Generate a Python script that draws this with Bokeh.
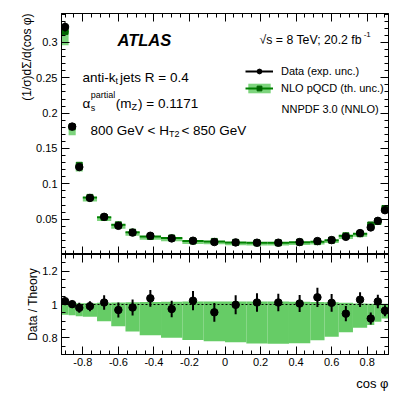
import numpy as np
from bokeh.plotting import figure
from bokeh.models import (Range1d, LinearAxis, FixedTicker, CustomJSTickFormatter,
                          Label, Legend, LegendItem, ColumnDataSource, Span, Title)
from bokeh.layouts import column
from bokeh.embed import file_html
from bokeh.resources import INLINE

# ---------------- data ----------------
bin_edges = [-0.92, -0.88, -0.84, -0.80, -0.72, -0.64, -0.56, -0.48, -0.36, -0.24, -0.12, 0.0,
             0.12, 0.24, 0.36, 0.48, 0.56, 0.64, 0.72, 0.80, 0.84, 0.88, 0.92]
data_xsec = [0.322, 0.181, 0.1237, 0.080, 0.0533, 0.0406, 0.031, 0.0265, 0.0228, 0.0195, 0.0176,
             0.0171, 0.0167, 0.0167, 0.0176, 0.019, 0.0204, 0.025, 0.0303, 0.0383, 0.0476, 0.0627]
data_rel_unc = [0.02, 0.02, 0.03, 0.03, 0.043, 0.045, 0.048, 0.05, 0.05, 0.058, 0.056,
                0.057, 0.056, 0.053, 0.051, 0.058, 0.053, 0.046, 0.044, 0.036, 0.04, 0.033]
theory_xsec = [0.3157, 0.1806, 0.1262, 0.0808, 0.0527, 0.0420, 0.0316, 0.0256, 0.0234, 0.0191, 0.0185,
               0.0171, 0.0165, 0.0165, 0.0175, 0.0182, 0.0202, 0.0265, 0.0294, 0.0418, 0.0468, 0.0651]
ratio = [1.02, 1.002, 0.98, 0.99, 1.012, 0.967, 0.982, 1.037, 0.973, 1.023, 0.953,
         0.998, 1.012, 1.012, 1.006, 1.043, 1.01, 0.945, 1.029, 0.916, 1.018, 0.963]
theory_unc_low = [0.938, 0.935, 0.93, 0.926, 0.9, 0.87, 0.838, 0.815, 0.8, 0.787, 0.78,
                  0.774, 0.766, 0.764, 0.768, 0.785, 0.807, 0.834, 0.86, 0.877, 0.897, 0.916]
theory_unc_high = [1.008, 1.008, 1.008, 1.008, 1.01, 1.012, 1.013, 1.015, 1.017, 1.018, 1.018,
                   1.018, 1.018, 1.018, 1.017, 1.015, 1.013, 1.01, 1.006, 1.005, 1.005, 1.005]

x_ticks = [-0.8, -0.6, -0.4, -0.2, 0, 0.2, 0.4, 0.6, 0.8]
top_y_ticks = [0.05, 0.1, 0.15, 0.2, 0.25, 0.3]
ratio_y_ticks = [0.8, 1, 1.2]

# ---------------- derived columns ----------------
lo = np.array(bin_edges[:-1]); hi = np.array(bin_edges[1:])
xc = (lo + hi) / 2
d = np.array(data_xsec); th = np.array(theory_xsec); r = np.array(ratio)
du = np.array(data_rel_unc); bl = np.array(theory_unc_low); bh = np.array(theory_unc_high)

src = ColumnDataSource(dict(
    lo=lo, hi=hi, x=xc, d=d, d_lo=d * (1 - du), d_hi=d * (1 + du),
    th=th, th_lo=th * bl, th_hi=th * bh,
    r=r, r_lo=r - du, r_hi=r + du, b_lo=bl, b_hi=bh))

FONT = "Liberation Sans"
BAND = "#66cc66"
DARK = "#008000"
SQ = "#006400"

W = {' ': 278, '!': 278, '(': 333, ')': 333, '-': 333, '.': 278, '/': 278, ';': 278, '<': 584,
     '=': 584, '>': 584, 'A': 667, 'B': 667, 'C': 722, 'D': 722, 'E': 667, 'F': 611, 'G': 778,
     'H': 722, 'I': 278, 'K': 667, 'L': 556, 'M': 833, 'N': 722, 'O': 778, 'P': 667, 'Q': 778,
     'R': 722, 'S': 667, 'T': 611, 'U': 722, 'V': 667, 'Z': 611, 'a': 556, 'b': 556, 'c': 500,
     'd': 556, 'e': 556, 'f': 278, 'g': 556, 'h': 556, 'i': 222, 'j': 222, 'k': 500, 'l': 222,
     'm': 833, 'n': 556, 'o': 556, 'p': 556, 'q': 556, 'r': 333, 's': 500, 't': 278, 'u': 556,
     'v': 500, 'x': 500, 'y': 500, 'z': 500, 'α': 578, '√': 549, 'φ': 650}
for ch in "0123456789":
    W[ch] = 556


def tw(s, size):
    return sum(W.get(c, 556) for c in s) * size / 1000.0


FX0 = 61          # frame left (page px)
TOP_FB = 254      # top panel frame bottom (page px)


def put(p, X, Y, text, size, fb, style="normal", align="left", baseline="alphabetic"):
    p.add_layout(Label(x=X - FX0, y=fb - Y, x_units="screen", y_units="screen", text=text,
                       text_font=FONT, text_font_size=f"{size}px", text_font_style=style,
                       text_align=align, text_baseline=baseline, text_color="black"))


def style_axis(ax, labels=True, major_in=8, minor_in=4):
    ax.axis_line_color = "black"
    ax.axis_line_width = 1
    ax.major_tick_in = major_in
    ax.major_tick_out = 0
    ax.minor_tick_in = minor_in
    ax.minor_tick_out = 0
    ax.major_tick_line_color = "black"
    ax.minor_tick_line_color = "black"
    ax.axis_label = None
    if labels:
        ax.formatter = CustomJSTickFormatter(code="return String(tick);")
        ax.major_label_text_font = FONT
        ax.major_label_text_font_size = "11px"
        ax.major_label_text_color = "black"
        ax.major_label_standoff = 4
    else:
        ax.formatter = CustomJSTickFormatter(code="return '';")
        ax.major_label_text_font_size = "0px"
        ax.major_label_standoff = 0


x_minor = [round(v, 3) for v in np.arange(-0.90, 0.901, 0.05)]
ty_minor = [round(v, 3) for v in np.arange(0.01, 0.3405, 0.01)]
ry_minor = [round(v, 3) for v in np.arange(0.70, 1.301, 0.05)]
xtick = FixedTicker(ticks=x_ticks, minor_ticks=x_minor)
tytick = FixedTicker(ticks=top_y_ticks, minor_ticks=ty_minor)
rytick = FixedTicker(ticks=ratio_y_ticks, minor_ticks=ry_minor)

xr = Range1d(-0.92, 0.92)

# ---------------- top panel ----------------
p1 = figure(x_range=xr, y_range=Range1d(0.0, 0.341), frame_width=327, frame_height=241,
            output_backend="svg", toolbar_location=None,
            min_border_left=61, min_border_right=21, min_border_top=13, min_border_bottom=0)
p1.xgrid.visible = False
p1.ygrid.visible = False
p1.outline_line_color = "black"
p1.background_fill_color = "white"
p1.border_fill_color = "white"
p1.xaxis.ticker = xtick
p1.yaxis.ticker = tytick
style_axis(p1.xaxis[0], labels=False)
style_axis(p1.yaxis[0], labels=True)
ax_r = LinearAxis(ticker=tytick); style_axis(ax_r, labels=False); p1.add_layout(ax_r, "right")
ax_t = LinearAxis(ticker=xtick); style_axis(ax_t, labels=False); p1.add_layout(ax_t, "above")
p1.add_layout(Title(text="(1/σ)dΣ/d(cos φ)", align="right", text_font=FONT,
                    text_font_size="12px", text_font_style="normal", text_color="black",
                    standoff=0, offset=0), "left")

band1 = p1.quad(left="lo", right="hi", bottom="th_lo", top="th_hi", source=src,
                fill_color=BAND, fill_alpha=0.85, line_color=None)
cen1 = p1.segment(x0="lo", x1="hi", y0="th", y1="th", source=src, line_color=DARK, line_width=2)
sq1 = p1.scatter(x="x", y="th", source=src, marker="square", size=6, fill_color=SQ, line_color=SQ)
err1 = p1.segment(x0="x", x1="x", y0="d_lo", y1="d_hi", source=src, line_color="black", line_width=2)
pt1 = p1.scatter(x="x", y="d", source=src, marker="circle", size=7.5, fill_color="black", line_color="black")

legend = Legend(items=[LegendItem(label="Data (exp. unc.)", renderers=[err1, pt1]),
                       LegendItem(label="NLO pQCD (th. unc.)", renderers=[band1, cen1, sq1])],
                location=(184, 160), orientation="vertical")
legend.background_fill_alpha = 0
legend.border_line_alpha = 0
legend.padding = 0
legend.margin = 0
legend.spacing = 5
legend.glyph_width = 28
legend.glyph_height = 12
legend.label_height = 12
legend.label_standoff = 8
legend.label_text_font = FONT
legend.label_text_font_size = "11px"
legend.label_text_color = "black"
p1.add_layout(legend)

# texts of the top panel
put(p1, 117, 39, "ATLAS", 16.5, TOP_FB, style="bold italic")
s_main = "√s = 8 TeV; 20.2 fb"
put(p1, 259, 39, s_main, 12.3, TOP_FB)
put(p1, 259 + tw(s_main, 12.3), 34, "-1", 8, TOP_FB)

FS = 13.5
x = 82.0
put(p1, x, 77, "anti-k", FS, TOP_FB); x += tw("anti-k", FS)
put(p1, x, 80, "t", 9, TOP_FB); x += tw("t", 9) + 2
put(p1, x, 77, " jets R = 0.4", FS, TOP_FB)

x = 82.0
put(p1, x, 103, "α", FS, TOP_FB); x += tw("α", FS) + 0.5
put(p1, x, 94, "partial", 9, TOP_FB)
put(p1, x, 107, "s", 9, TOP_FB); x += tw("partial", 9) + 0.5
put(p1, x, 103, "(m", FS, TOP_FB); x += tw("(m", FS)
put(p1, x, 106, "Z", 9, TOP_FB); x += tw("Z", 9) + 1
put(p1, x, 103, ") = 0.1171", FS, TOP_FB)

x = 90.0
put(p1, x, 130, "800 GeV < H", FS, TOP_FB); x += tw("800 GeV < H", FS)
put(p1, x, 133, "T2", 9, TOP_FB); x += tw("T2", 9) + 2
put(p1, x, 130, " < 850 GeV", FS, TOP_FB)

put(p1, 281, 108, "NNPDF 3.0 (NNLO)", 11, TOP_FB)

# ---------------- bottom panel ----------------
p2 = figure(x_range=xr, y_range=Range1d(0.7, 1.3), frame_width=327, frame_height=100,
            output_backend="svg", toolbar_location=None,
            min_border_left=61, min_border_right=21, min_border_top=0, min_border_bottom=0)
p2.xgrid.visible = False
p2.ygrid.visible = False
p2.outline_line_color = "black"
p2.background_fill_color = "white"
p2.border_fill_color = "white"
p2.xaxis.ticker = xtick
p2.yaxis.ticker = rytick
style_axis(p2.xaxis[0], labels=True)
p2.xaxis[0].major_label_standoff = 3
style_axis(p2.yaxis[0], labels=True)
ax_r2 = LinearAxis(ticker=rytick); style_axis(ax_r2, labels=False); p2.add_layout(ax_r2, "right")
ax_t2 = LinearAxis(ticker=xtick); style_axis(ax_t2, labels=False); p2.add_layout(ax_t2, "above")
p2.add_layout(Title(text="Data / Theory", align="center", text_font=FONT,
                    text_font_size="12px", text_font_style="normal", text_color="black",
                    standoff=0), "left")
p2.add_layout(Title(text="cos φ", align="right", text_font=FONT,
                    text_font_size="13px", text_font_style="normal", text_color="black",
                    standoff=11), "below")

p2.quad(left="lo", right="hi", bottom="b_lo", top="b_hi", source=src,
        fill_color=BAND, fill_alpha=1.0, line_color=None)
p2.add_layout(Span(location=1.0, dimension="width", line_color="black", line_width=1,
                   line_dash="2 2"))
p2.segment(x0="x", x1="x", y0="r_lo", y1="r_hi", source=src, line_color="black", line_width=2)
p2.scatter(x="x", y="r", source=src, marker="circle", size=7.5, fill_color="black", line_color="black")

layout = column(p1, p2, spacing=0)
open("out.html", "w").write(file_html(layout, INLINE))
